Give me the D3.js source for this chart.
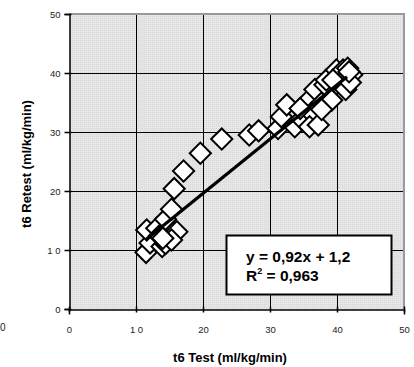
<!DOCTYPE html>
<html>
<head>
<meta charset="utf-8">
<script src="https://cdn.jsdelivr.net/npm/d3@7"></script>
<style>
  html, body { margin: 0; padding: 0; background: #fff; }
  svg { display: block; font-family: Arial, "Liberation Sans", sans-serif; }
</style>
</head>
<body>
<svg id="chart" width="414" height="367"></svg>
<script>
// Test / retest measurements (ml/kg/min)
const testValues   = [11.5, 12.1, 11.6, 13.1, 13.9, 14.4, 15.1, 16.1, 15.3, 14.4, 13.5, 14.0,
                      15.3, 15.7, 17.1, 19.6, 22.8, 26.9, 28.3, 31.2, 31.7, 32.5, 33.7, 34.7,
                      35.5, 36.2, 35.9, 37.2, 36.7, 37.7, 38.2, 38.4, 39.2, 39.9, 40.9, 41.6,
                      40.9, 41.6, 41.3, 39.4, 37.7, 34.5, 42.2, 42.0, 41.8];
const retestValues = [ 9.6, 11.2, 13.4, 13.7, 10.6, 11.1, 13.4, 13.1, 11.7, 15.2, 12.4, 12.0,
                      16.9, 20.4, 23.4, 26.4, 28.8, 29.5, 30.2, 30.6, 32.6, 34.6, 30.9, 32.2,
                      35.1, 33.2, 30.9, 31.2, 37.2, 34.9, 38.0, 38.8, 35.4, 40.5, 40.5, 40.8,
                      38.0, 39.5, 37.2, 38.8, 33.8, 34.0, 39.7, 38.4, 40.2];

// Linear trend line
const slope = 0.92, intercept = 1.2;
const trendRange = [11.5, 41.5];
const equationText = "y = 0,92x + 1,2";
const r2Value = "0,963";

const axisTicks = [0, 10, 20, 30, 40, 50];
const tickLabels = ["0", "1 0", "20", "30", "40", "50"];

const svg = d3.select("#chart");
const x = d3.scaleLinear().domain([0, 50]).range([69, 404]);
const y = d3.scaleLinear().domain([0, 50]).range([309, 14]);

// plot area background with a fine dotted texture
const defs = svg.append("defs");
const pat = defs.append("pattern").attr("id", "dots")
  .attr("width", 2).attr("height", 2).attr("patternUnits", "userSpaceOnUse");
pat.append("rect").attr("width", 2).attr("height", 2).attr("fill", "#e6e6e6");
pat.append("rect").attr("width", 1).attr("height", 1).attr("fill", "#d8d8d8");

svg.append("rect")
  .attr("x", x(0)).attr("y", y(50))
  .attr("width", x(50) - x(0)).attr("height", y(0) - y(50))
  .attr("fill", "url(#dots)");

// gridlines
const grid = svg.append("g").attr("stroke", "#000").attr("stroke-width", 1);
axisTicks.slice(1, -1).forEach(t => {
  grid.append("line").attr("x1", x(t) + 0.5).attr("x2", x(t) + 0.5)
    .attr("y1", y(50)).attr("y2", y(0));
  grid.append("line").attr("x1", x(0)).attr("x2", x(50))
    .attr("y1", y(t) + 0.5).attr("y2", y(t) + 0.5);
});

// top & right plot border
svg.append("path")
  .attr("d", `M${x(0)},${y(50)}H${x(50)}V${y(0)}`)
  .attr("fill", "none").attr("stroke", "#999").attr("stroke-width", 2);

// axes
const fmt = d => tickLabels[axisTicks.indexOf(d)];
const xAxis = svg.append("g").attr("transform", `translate(0,${y(0) + 0.5})`)
  .call(d3.axisBottom(x).tickValues(axisTicks).tickFormat(fmt).tickSize(5).tickPadding(12));
const yAxis = svg.append("g").attr("transform", `translate(${x(0) + 0.5},0)`)
  .call(d3.axisLeft(y).tickValues(axisTicks).tickFormat(fmt).tickSize(5).tickPadding(4));
[xAxis, yAxis].forEach(a => {
  a.select(".domain").attr("stroke", "#000").attr("stroke-width", 1.5);
  a.selectAll(".tick line").attr("stroke", "#000").attr("stroke-width", 1.5);
  a.selectAll(".tick text").attr("font-size", 9.5).attr("fill", "#222")
    .attr("font-family", "Arial, 'Liberation Sans', sans-serif");
});
// bottom axis ticks extend on both sides of the axis line
xAxis.selectAll(".tick line").attr("y1", -3).attr("y2", 3);
yAxis.selectAll(".tick line").attr("x1", 2).attr("x2", -5);

// stray label at the left edge
svg.append("text").attr("x", 0).attr("y", 331).attr("font-size", 10)
  .attr("fill", "#222").text("0");

// markers
const pts = testValues.map((v, i) => [v, retestValues[i]]);
svg.append("g").selectAll("path").data(pts).join("path")
  .attr("transform", d => `translate(${x(d[0])},${y(d[1])}) rotate(45)`)
  .attr("d", d3.symbol().type(d3.symbolSquare).size(225))
  .attr("fill", "#fff").attr("stroke", "#000").attr("stroke-width", 2);

// trend line
svg.append("line")
  .attr("x1", x(trendRange[0])).attr("y1", y(slope * trendRange[0] + intercept))
  .attr("x2", x(trendRange[1])).attr("y2", y(slope * trendRange[1] + intercept))
  .attr("stroke", "#000").attr("stroke-width", 3.2);

// equation box
svg.append("rect").attr("x", 226.5).attr("y", 235.5).attr("width", 165).attr("height", 59)
  .attr("fill", "#fff").attr("stroke", "#000").attr("stroke-width", 2);
const eq = svg.append("g").attr("font-weight", "bold").attr("font-size", 15.5).attr("fill", "#000");
eq.append("text").attr("x", 246).attr("y", 262).text(equationText);
const r2 = eq.append("text").attr("x", 246).attr("y", 281);
r2.append("tspan").text("R");
r2.append("tspan").attr("font-size", 9).attr("dy", -7).text("2");
r2.append("tspan").attr("dy", 7).text(" = " + r2Value);

// axis titles
svg.append("text").attr("x", 230).attr("y", 362).attr("text-anchor", "middle")
  .attr("font-weight", "bold").attr("font-size", 13).text("t6 Test (ml/kg/min)");
svg.append("text").attr("transform", "translate(31,164) rotate(-90)")
  .attr("text-anchor", "middle").attr("font-weight", "bold").attr("font-size", 13)
  .text("t6 Retest (ml/kg/min)");
</script>
</body>
</html>
